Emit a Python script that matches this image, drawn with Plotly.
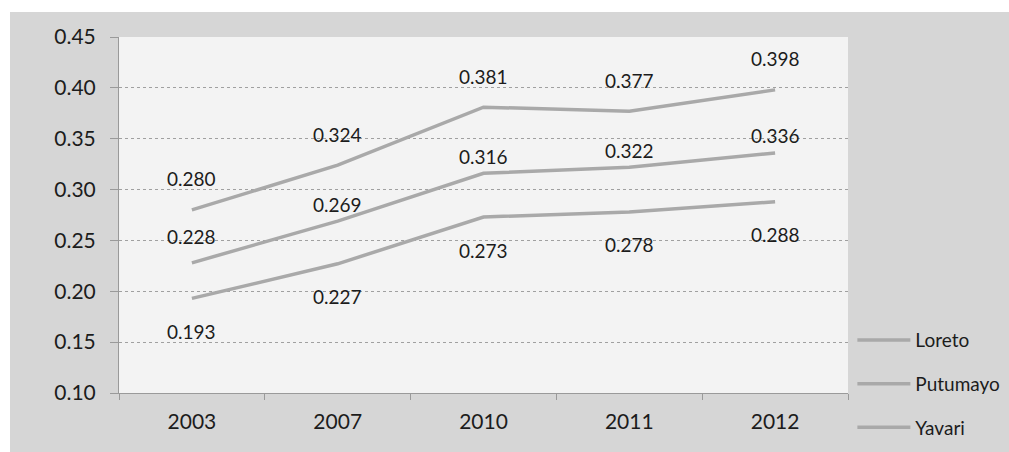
import plotly.graph_objects as go

years = ["2003", "2007", "2010", "2011", "2012"]
loreto = [0.280, 0.324, 0.381, 0.377, 0.398]
putumayo = [0.228, 0.269, 0.316, 0.322, 0.336]
yavari = [0.193, 0.227, 0.273, 0.278, 0.288]

series = [("Loreto", loreto), ("Putumayo", putumayo), ("Yavari", yavari)]
label_shift = {"Loreto": 31, "Putumayo": 17, "Yavari": -33}

FONT = "Lato"
TXT = "#1c1c1c"
LINE = "#a9a9a9"
GREY = "#d6d6d6"

fig = go.Figure()
annotations = []
for name, vals in series:
    fig.add_trace(go.Scatter(
        x=years, y=vals, name=name, mode="lines",
        line=dict(color=LINE, width=3.5),
        legendgroup=name,
    ))
    for idx, v in enumerate(vals):
        annotations.append(dict(
            x=idx, y=v, xref="x", yref="y", text=f"{v:.3f}", showarrow=False,
            yshift=label_shift[name], font=dict(family=FONT, size=19, color=TXT),
        ))
# first Putumayo label sits a bit higher
annotations[5]["yshift"] = 26

W, H = 1009, 452
L, T, PW, PH = 119, 37, 729, 356
fig.update_layout(
    width=W, height=H,
    margin=dict(l=L, r=W - L - PW, t=T, b=H - T - PH, autoexpand=False),
    paper_bgcolor=GREY,
    plot_bgcolor="#f3f3f3",
    font=dict(family=FONT, color=TXT),
    annotations=annotations,
    showlegend=True,
    legend=dict(
        x=1.006, y=0.202, xanchor="left", yanchor="top",
        font=dict(family=FONT, size=19, color=TXT),
        bgcolor="rgba(0,0,0,0)",
        traceorder="grouped", tracegroupgap=16, itemwidth=53,
    ),
    shapes=[
        # white scan border on the left and top
        dict(type="rect", xref="paper", yref="paper",
             x0=-L / PW, x1=(10 - L) / PW,
             y0=(T + PH - H) / PH, y1=(T + PH) / PH,
             fillcolor="white", line=dict(width=0), layer="below"),
        dict(type="rect", xref="paper", yref="paper",
             x0=-L / PW, x1=(W - L) / PW,
             y0=(T + PH - 12) / PH, y1=(T + PH) / PH,
             fillcolor="white", line=dict(width=0), layer="below"),
        dict(type="rect", xref="paper", yref="paper",
             x0=0, x1=1, y0=0, y1=1,
             fillcolor="#f3f3f3", line=dict(width=0), layer="below"),
    ],
)
fig.update_xaxes(
    type="category", range=[-0.5, 4.5],
    showline=True, linecolor="#9a9a9a", linewidth=1,
    ticks="outside", ticklen=6, tickcolor="#9a9a9a", tickson="boundaries",
    showgrid=False, zeroline=False, ticklabelstandoff=10,
    tickfont=dict(family=FONT, size=21, color=TXT),
)
fig.update_yaxes(
    range=[0.10, 0.45], dtick=0.05, tickformat=".2f",
    showline=True, linecolor="#9a9a9a", linewidth=1,
    ticks="outside", ticklen=8, tickcolor="#9a9a9a",
    showgrid=True, gridcolor="#a0a0a0", griddash="dot", gridwidth=1,
    zeroline=False, ticklabelstandoff=10,
    tickfont=dict(family=FONT, size=21, color=TXT),
)

fig.write_html(
    "out.html",
    config={"displayModeBar": False},
    post_script="document.body.style.margin='0';"
                "document.documentElement.style.overflow='hidden';",
)
